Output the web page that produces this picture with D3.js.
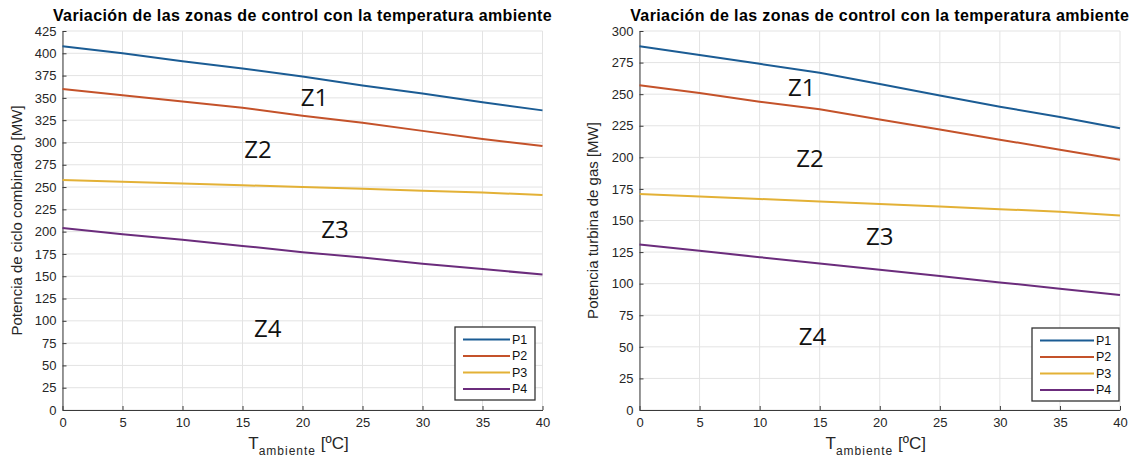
<!DOCTYPE html>
<html>
<head>
<meta charset="utf-8">
<script src="https://cdn.jsdelivr.net/npm/d3@7"></script>
<style>
  body { margin: 0; background: #fff; }
  svg { display: block; font-family: "Liberation Sans", Arial, sans-serif; }
  .grid line { stroke: #e3e3e3; stroke-width: 1; }
  .axis path, .axis line { stroke: #3a3a3a; }
  .axis text { fill: #262626; font-size: 13px; }
  .zone { font-family: "Open Sans", "Noto Sans", sans-serif; font-size: 24px; fill: #111; }
</style>
</head>
<body>
<svg width="1136" height="461"></svg>
<script>
// temperatura ambiente [ºC]
const temps = [0, 5, 10, 15, 20, 25, 30, 35, 40];
const xTicks = [0, 5, 10, 15, 20, 25, 30, 35, 40];
const seriesNames = ["P1", "P2", "P3", "P4"];

// ciclo combinado [MW]
const ccP1 = [408, 400, 391, 383, 374, 364, 355, 345, 336];
const ccP2 = [360, 353, 346, 339, 330, 322, 313, 304, 296];
const ccP3 = [258, 256, 254, 252, 250, 248, 246, 244, 241];
const ccP4 = [204, 197, 191, 184, 177, 171, 164, 158, 152];
const ccYTicks = d3.range(0, 426, 25);

// turbina de gas [MW]
const tgP1 = [288, 281, 274, 267, 258, 249, 240, 232, 223];
const tgP2 = [257, 251, 244, 238, 230, 222, 214, 206, 198];
const tgP3 = [171, 169, 167, 165, 163, 161, 159, 157, 154];
const tgP4 = [131, 126, 121, 116, 111, 106, 101, 96, 91];
const tgYTicks = d3.range(0, 301, 25);

// zonas: [etiqueta, T, MW]
const ccZones = [["Z1", 21, 351], ["Z2", 16.3, 293], ["Z3", 22.7, 203], ["Z4", 17.1, 93]];
const tgZones = [["Z1", 13.5, 256], ["Z2", 14.2, 200], ["Z3", 20, 138], ["Z4", 14.4, 59]];

const colors = ["#1b5c94", "#c4522a", "#e3b136", "#6b2c7c"];
const title = "Variación de las zonas de control con la temperatura ambiente";

const svg = d3.select("svg");

function drawPanel(opt) {
    const x = d3.scaleLinear().domain([0, 40]).range([opt.left, opt.right]);
    const y = d3.scaleLinear().domain([0, opt.yMax]).range([opt.bottom, opt.top]);
    const g = svg.append("g");

    // rejilla
    const grid = g.append("g").attr("class", "grid");
    grid.selectAll(".gx").data(xTicks).enter().append("line")
        .attr("x1", d => x(d)).attr("x2", d => x(d))
        .attr("y1", opt.top).attr("y2", opt.bottom);
    grid.selectAll(".gy").data(opt.yTicks).enter().append("line")
        .attr("x1", opt.left).attr("x2", opt.right)
        .attr("y1", d => y(d)).attr("y2", d => y(d));

    // ejes
    g.append("g").attr("class", "axis")
        .attr("transform", `translate(0,${opt.bottom})`)
        .call(d3.axisBottom(x).tickValues(xTicks).tickSizeInner(-4).tickSizeOuter(0).tickPadding(8));
    g.append("g").attr("class", "axis")
        .attr("transform", `translate(${opt.left},0)`)
        .call(d3.axisLeft(y).tickValues(opt.yTicks).tickSizeInner(-4).tickSizeOuter(0).tickPadding(6));

    // curvas
    const line = d3.line().x((d, i) => x(temps[i])).y(d => y(d));
    g.selectAll(".serie").data(opt.series).enter().append("path")
        .attr("fill", "none")
        .attr("stroke", (d, i) => colors[i])
        .attr("stroke-width", 2)
        .attr("d", line);

    // zonas
    g.selectAll(".zone").data(opt.zones).enter().append("text")
        .attr("class", "zone")
        .attr("x", d => x(d[1])).attr("y", d => y(d[2]))
        .attr("text-anchor", "middle").attr("dominant-baseline", "central")
        .text(d => d[0]);

    // titulo
    g.append("text")
        .attr("x", (opt.left + opt.right) / 2).attr("y", 21)
        .attr("text-anchor", "middle")
        .style("font-weight", "bold").style("font-size", "16px").style("letter-spacing", "0.4px")
        .attr("fill", "#000")
        .text(title);

    // etiqueta eje y
    g.append("text")
        .attr("transform", `translate(${opt.yLabelX},${(opt.top + opt.bottom) / 2}) rotate(-90)`)
        .attr("text-anchor", "middle")
        .style("font-size", "15px").attr("fill", "#262626")
        .text(opt.yLabel);

    // etiqueta eje x
    const xl = g.append("text")
        .attr("x", (opt.left + opt.right) / 2 - 4).attr("y", 449)
        .attr("text-anchor", "middle")
        .style("font-size", "17px").attr("fill", "#262626");
    xl.append("tspan").text("T");
    xl.append("tspan").attr("dy", 6).style("font-size", "12px").style("letter-spacing", "1px").text("ambiente");
    xl.append("tspan").attr("dy", -6).text(" [ºC]");

    // leyenda
    const lg = g.append("g").attr("transform", `translate(${opt.legX},${opt.legY})`);
    lg.append("rect").attr("width", opt.legW).attr("height", 73)
        .attr("fill", "#fff").attr("stroke", "#333").attr("stroke-width", 1.3);
    const item = lg.selectAll(".item").data(seriesNames).enter().append("g")
        .attr("transform", (d, i) => `translate(0,${12.5 + i * 16.5})`);
    item.append("line").attr("x1", 8).attr("x2", opt.legW - 25)
        .attr("stroke", (d, i) => colors[i]).attr("stroke-width", 2);
    item.append("text").attr("x", opt.legW - 23).attr("dy", "0.35em")
        .style("font-size", "12.5px").attr("fill", "#111").text(d => d);
}

drawPanel({
    left: 62.5, right: 542.5, top: 31, bottom: 410,
    yMax: 425, yTicks: ccYTicks,
    series: [ccP1, ccP2, ccP3, ccP4], zones: ccZones,
    yLabel: "Potencia de ciclo combinado [MW]", yLabelX: 22,
    legX: 455, legY: 327, legW: 80
});

drawPanel({
    left: 639.5, right: 1120, top: 31, bottom: 410,
    yMax: 300, yTicks: tgYTicks,
    series: [tgP1, tgP2, tgP3, tgP4], zones: tgZones,
    yLabel: "Potencia turbina de gas [MW]", yLabelX: 598,
    legX: 1032, legY: 328, legW: 87
});
</script>
</body>
</html>
